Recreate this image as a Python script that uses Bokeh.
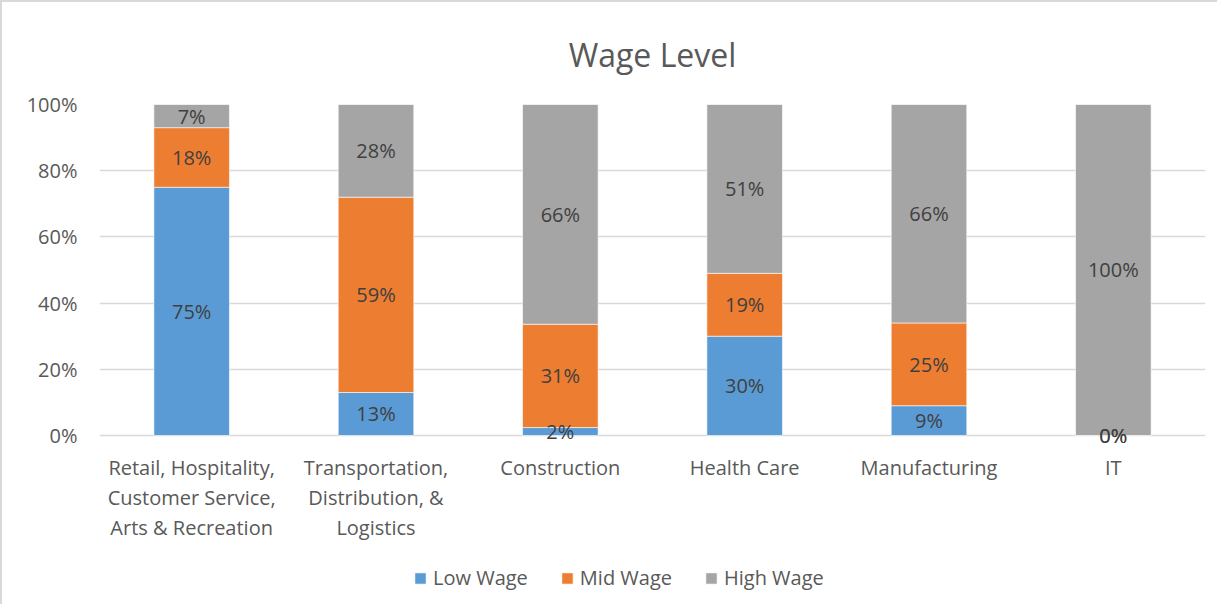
from bokeh.plotting import figure
from bokeh.models import ColumnDataSource, NumeralTickFormatter, Legend, LegendItem, FixedTicker, Range1d
from bokeh.core.properties import value
from bokeh.embed import file_html
from bokeh.resources import INLINE

categories = ["Retail, Hospitality,\nCustomer Service,\nArts & Recreation",
              "Transportation,\nDistribution, &\nLogistics",
              "Construction", "Health Care", "Manufacturing", "IT"]
low_wage = [75, 13, 2.4, 30, 9, 0]
mid_wage = [18, 59, 31.2, 19, 25, 0]
high_wage = [7, 28, 66.4, 51, 66, 100]
series_names = ["Low Wage", "Mid Wage", "High Wage"]
colors = ["#5b9bd5", "#ed7d31", "#a5a5a5"]
y_ticks = [0, 0.2, 0.4, 0.6, 0.8, 1.0]

FONT = "Open Sans"

low = [v / 100 for v in low_wage]
mid = [v / 100 for v in mid_wage]
high = [v / 100 for v in high_wage]
src = ColumnDataSource(dict(cat=categories, low=low, mid=mid, high=high))

# the frame extends below 0 so the category labels and legend sit inside it
p = figure(x_range=categories, y_range=Range1d(-0.5106, 1), frame_width=1106, frame_height=500,
           output_backend="svg", toolbar_location=None,
           min_border_left=97, min_border_right=12, min_border_top=97, min_border_bottom=0)
p.styles = {"border-top": "2px solid #d9d9d9", "border-left": "2px solid #d9d9d9"}

renderers = p.vbar_stack(["low", "mid", "high"], x="cat", width=0.41, source=src,
                         color=colors, line_color="white", line_width=0.6)

# data labels
lab_x, lab_y, lab_t = [], [], []
for i, c in enumerate(categories):
    base = 0.0
    for vals in (low, mid, high):
        v = vals[i]
        lab_x.append(c)
        lab_y.append(base + v / 2)
        lab_t.append(f"{round(v * 100):d}%")
        base += v
lsrc = ColumnDataSource(dict(x=lab_x, y=lab_y, t=lab_t))
p.text(x="x", y="y", text="t", source=lsrc, text_align="center", text_baseline="middle",
       text_font=value(FONT), text_font_size="20px", text_color="#404040")

# category labels (x axis tick labels) placed on the categorical scale
csrc = ColumnDataSource(dict(x=categories, y=[-0.055] * len(categories), t=categories))
p.text(x="x", y="y", text="t", source=csrc, text_align="center", text_baseline="top",
       text_font=value(FONT), text_font_size="20px", text_color="#595959",
       text_line_height=1.11)

p.title.text = "Wage Level"
p.title.align = "center"
p.title.text_font = FONT
p.title.text_font_size = "32px"
p.title.text_font_style = "normal"
p.title.text_color = "#595959"
p.title.standoff = 57

p.yaxis.ticker = FixedTicker(ticks=y_ticks)
p.yaxis.formatter = NumeralTickFormatter(format="0%")
p.yaxis.axis_line_color = None
p.yaxis.major_tick_line_color = None
p.yaxis.minor_tick_line_color = None
p.yaxis.major_label_text_font = FONT
p.yaxis.major_label_text_font_size = "20px"
p.yaxis.major_label_text_color = "#595959"
p.yaxis.major_label_standoff = 16

p.xaxis.visible = False

p.xgrid.grid_line_color = None
p.ygrid.grid_line_color = "#d9d9d9"
p.ygrid.grid_line_width = 1.5
p.ygrid.ticker = FixedTicker(ticks=y_ticks)
p.outline_line_color = None
p.x_range.range_padding = 0

legend = Legend(items=[LegendItem(label=n, renderers=[r]) for n, r in zip(series_names, renderers)],
                orientation="horizontal", location=(314, 13),
                label_text_font=FONT, label_text_font_size="20px", label_text_color="#595959",
                glyph_width=14, glyph_height=14, spacing=32, border_line_color=None,
                background_fill_alpha=0, label_standoff=6, margin=0, padding=0)
p.add_layout(legend, "center")

open("out.html", "w").write(file_html(p, INLINE))
